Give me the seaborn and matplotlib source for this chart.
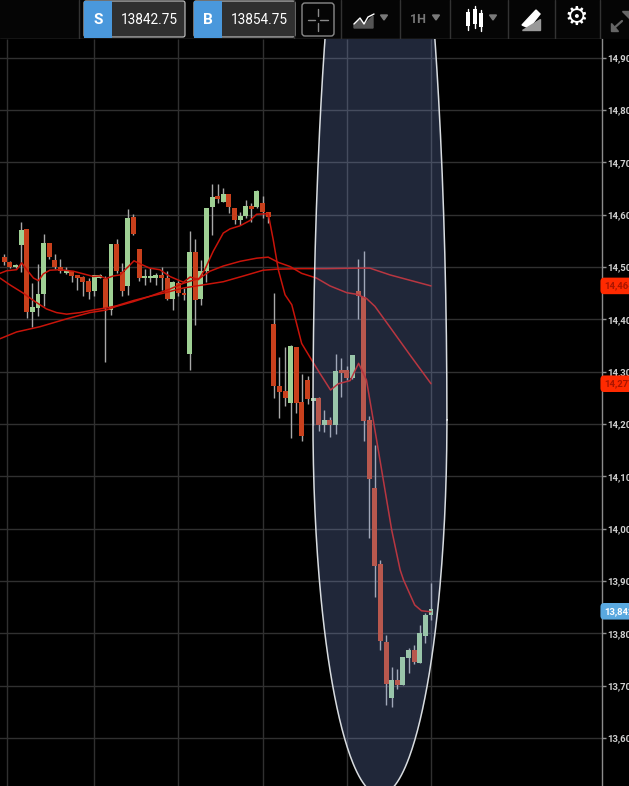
import numpy as np
import matplotlib
matplotlib.use("Agg")
import matplotlib.pyplot as plt
from matplotlib.patches import FancyBboxPatch, Rectangle
import seaborn as sns

# Candle values
opens = [14520, 14509, 14500, 14543, 14573, 14414, 14421, 14449, 14546, 14514, 14501, 14488, 14492, 14484, 14481, 14473,
         14455, 14480, 14478, 14418, 14544, 14490, 14464, 14596, 14534, 14480, 14480, 14480, 14484, 14479, 14439, 14469,
         14451, 14334, 14529, 14439, 14493, 14614, 14636, 14625, 14639, 14613, 14590, 14598, 14617, 14614, 14622, 14605,
         14391, 14273, 14263, 14241, 14348, 14242, 14284, 14244, 14249, 14199, 14208, 14198, 14303, 14303, 14287, 14454,
         14443, 14208, 14078, 13933, 13784, 13676, 13711, 13701, 13753, 13768, 13743, 13795, 13835]
highs = [14525, 14511, 14506, 14586, 14573, 14469, 14506, 14563, 14546, 14525, 14516, 14501, 14492, 14485, 14483, 14479,
         14485, 14487, 14483, 14544, 14553, 14508, 14611, 14601, 14534, 14497, 14498, 14488, 14501, 14493, 14473, 14473,
         14460, 14569, 14553, 14514, 14613, 14658, 14658, 14651, 14639, 14613, 14606, 14629, 14622, 14648, 14636, 14605,
         14451, 14329, 14348, 14351, 14348, 14296, 14292, 14249, 14251, 14227, 14214, 14334, 14326, 14311, 14332, 14516,
         14531, 14215, 14160, 13940, 13797, 13736, 13732, 13755, 13772, 13778, 13816, 13839, 13896]
lows = [14504, 14498, 14498, 14490, 14402, 14385, 14406, 14426, 14515, 14496, 14488, 14487, 14472, 14457, 14444, 14439,
        14445, 14479, 14318, 14409, 14488, 14445, 14447, 14561, 14474, 14465, 14472, 14466, 14457, 14437, 14417, 14444,
        14437, 14304, 14390, 14428, 14472, 14562, 14622, 14624, 14603, 14583, 14581, 14594, 14587, 14613, 14594, 14584,
        14249, 14211, 14235, 14173, 14221, 14168, 14238, 14198, 14187, 14184, 14175, 14180, 14252, 14284, 14286, 14400,
        14168, 13982, 13870, 13768, 13663, 13659, 13694, 13701, 13724, 13741, 13743, 13782, 13826]
closes = [14509, 14500, 14504, 14571, 14414, 14423, 14448, 14546, 14520, 14500, 14492, 14492, 14483, 14480, 14472, 14453,
          14484, 14485, 14422, 14544, 14493, 14455, 14594, 14564, 14480, 14481, 14481, 14484, 14480, 14439, 14471, 14450,
          14447, 14529, 14437, 14493, 14613, 14634, 14631, 14639, 14614, 14590, 14597, 14617, 14611, 14646, 14605, 14595,
          14273, 14262, 14249, 14349, 14241, 14177, 14247, 14249, 14199, 14208, 14198, 14302, 14298, 14287, 14331, 14444,
          14206, 14095, 13929, 13785, 13703, 13711, 13701, 13755, 13768, 13745, 13801, 13835, 13847]

# Moving averages: bar position and price
fast_pos = [-0.77, 0.42, 2.2, 3.1, 4.0, 5.2, 6.1, 6.95, 8.1, 9.9, 12.3, 14.1, 15.85, 17.0, 18.1, 19.4, 20.6, 22.1, 23.1,
            24.2, 25.9, 27.7, 29.5, 31.9, 33.1, 34.6, 35.7, 37.2, 39.0, 40.2, 42.0, 43.75, 44.95, 47.0, 47.9, 48.8, 50.0,
            51.2, 52.96, 54.7, 56.2, 58.1, 59.5, 61.6, 63.1, 64.5, 65.1, 66.3, 67.5, 69.0, 70.5, 71.1, 73.1, 74.3, 76]
fast_val = [14488, 14493, 14495, 14508, 14495, 14479, 14474, 14487, 14494, 14495, 14492, 14487, 14482, 14483, 14478, 14483,
            14485, 14501, 14512, 14506, 14498, 14495, 14482, 14471, 14481, 14476, 14495, 14530, 14565, 14573, 14579, 14589,
            14601, 14602, 14552, 14495, 14447, 14428, 14354, 14323, 14297, 14265, 14277, 14283, 14316, 14284, 14246, 14170,
            14093, 13997, 13921, 13902, 13854, 13843, 13841]
mid_pos = [-0.77, 1.0, 3.4, 5.2, 7.5, 9.3, 11.1, 13.5, 15.85, 18.2, 20.0, 23.0, 25.9, 27.7, 29.5, 31.9, 34.85, 36.6, 39.0,
           42.0, 44.95, 47.0, 48.8, 50.9, 52.96, 55.6, 58.0, 61.0, 62.75, 64.5, 66.0, 68.7, 72.25, 76]
mid_val = [14479, 14466, 14450, 14436, 14420, 14413, 14410, 14413, 14418, 14422, 14426, 14436, 14444, 14451, 14458, 14469,
           14479, 14492, 14502, 14511, 14517, 14519, 14509, 14501, 14488, 14479, 14464, 14451, 14448, 14440, 14425, 14385,
           14332, 14277]
slow_pos = [-0.77, 2.2, 6.35, 11.1, 15.25, 18.2, 20.0, 23.0, 25.9, 28.3, 31.9, 35.45, 39.0, 42.6, 46.1, 48.5, 52.65, 57.4,
            63.3, 65.1, 68.7, 76]
slow_val = [14363, 14376, 14386, 14401, 14413, 14418, 14425, 14434, 14444, 14450, 14460, 14466, 14472, 14483, 14494, 14496,
            14497, 14497, 14498, 14498, 14485, 14464]

price_ticks = [13600, 13700, 13800, 13900, 14000, 14100, 14200, 14300, 14400, 14500, 14600, 14700, 14800, 14900]
time_grid = [0.53, 16, 31, 46, 61, 76]
tags = [(14464, "14,464", "#ff2a00", "#a81500"), (14277, "14,277", "#ff2a00", "#a81500"), (13842, "13,842", "#5aa9e0", "#ffffff")]

sns.set_theme(style="dark", rc={"figure.facecolor": "black", "axes.facecolor": "black", "savefig.facecolor": "black"})
plt.rcParams["font.family"] = ["Roboto", "DejaVu Sans"]

W, H = 629, 786
fig = plt.figure(figsize=(W / 100, H / 100), dpi=100)
ax = fig.add_axes([0, 0, 602 / W, 747 / H])
ax.set_xlim(-0.766, 106.45)
ax.set_ylim(13508, 14936)

# Grid
ax.hlines(price_ticks, -1, 107, color="#303030", lw=1, zorder=1)
ax.vlines(time_grid, 13508, 14936, color="#303030", lw=1, zorder=1)

# Candles
idx = np.arange(len(opens))
o = np.array(opens)
c = np.array(closes)
up = c >= o
colors = np.where(up, "#9fd094", "#c8401c")
ax.vlines(idx, lows, highs, color="#a8a8a8", lw=1, zorder=2)
ax.bar(idx, np.maximum(np.abs(c - o), 3), bottom=np.minimum(o, c), width=0.88, color=colors, linewidth=0, zorder=3)

# Moving averages
for pos, val in [(fast_pos, fast_val), (mid_pos, mid_val), (slow_pos, slow_val)]:
    sns.lineplot(x=pos, y=val, color="#c8140a", lw=1.1, ax=ax, legend=False, errorbar=None, zorder=4)

# Highlight drawn over the sell-off
t = np.linspace(0, 2 * np.pi, 400)
ex = 66.9 + 11.93 * np.cos(t)
ey = 14208 + np.where(np.sin(t) > 0, 1273, 717) * np.sin(t)
ax.fill(ex, ey, facecolor=(0.537, 0.651, 0.945, 0.24), edgecolor="none", zorder=5, clip_on=True)
ax.plot(ex, ey, color="#d8dce0", lw=1.1, zorder=6)

# Price axis
ax.yaxis.tick_right()
ax.set_yticks(price_ticks)
ax.set_yticklabels([f"{p:,}" for p in price_ticks], fontsize=6.8, fontweight="bold", color="#d0d0d0")
ax.set_xticks([])
ax.tick_params(axis="y", length=3, width=1, color="#909090", pad=0.5, right=True)
for name, spine in ax.spines.items():
    spine.set_visible(name == "right")
ax.spines["right"].set_color("#8c8c8c")
ax.spines["right"].set_linewidth(1)
ax.grid(False)
ax.set_xlabel("")
ax.set_ylabel("")

for price, label, bg, fg in tags:
    ax.annotate(label, xy=(1, price), xycoords=("axes fraction", "data"), xytext=(1.6, 0), textcoords="offset points",
                ha="left", va="center", fontsize=6.8, fontweight="bold", color=fg, zorder=10, annotation_clip=False,
                bbox=dict(boxstyle="round,pad=0.4", fc=bg, ec="none"))

# Toolbar strip
bar = fig.add_axes([0, 747 / H, 1, 39 / H], facecolor="#050505")
bar.set_xlim(0, W)
bar.set_ylim(39, 0)
bar.axis("off")
bar.add_patch(Rectangle((0, 0), W, 39, fc="#050505", ec="none"))
bar.plot([0, 602], [38.5, 38.5], color="#555555", lw=1)
for sx in [79, 294, 341, 400, 450, 508, 555, 600]:
    bar.plot([sx, sx], [0, 39], color="#333333", lw=1)

for x0, letter, price in [(84, "S", "13842.75"), (194, "B", "13854.75")]:
    bar.add_patch(FancyBboxPatch((x0, 1), 101, 36, boxstyle="round,pad=0,rounding_size=2", fc="#303030", ec="#c8c8c8", lw=0.8))
    bar.add_patch(Rectangle((x0, 1), 28, 37, fc="#4a98dc", ec="none"))
    bar.text(x0 + 14, 20, letter, color="white", fontsize=11, fontweight="bold", ha="center", va="center")
    bar.text(x0 + 65, 19.5, price, color="white", fontsize=9.8, ha="center", va="center")

# Crosshair button
bar.add_patch(FancyBboxPatch((302, 3), 32, 33, boxstyle="round,pad=0,rounding_size=3", fc="#050505", ec="#8a8a8a", lw=1))
for seg in [([308, 315], [19.5, 19.5]), ([320, 328], [19.5, 19.5]), ([317.5, 317.5], [9, 16]), ([317.5, 317.5], [23, 31])]:
    bar.plot(seg[0], seg[1], color="#8a8a8a", lw=1)

# Small icons
bar.fill([354, 354, 360, 365, 373, 373], [28, 24, 20, 24, 16, 28], color="#555555")
bar.plot([354, 360, 364, 368, 374], [24, 18, 24, 17, 14], color="white", lw=1)
for cx in [384, 436, 493]:
    bar.fill([cx - 3.5, cx + 3.5, cx], [15, 15, 20], color="#7a7a7a")
bar.text(418, 19.5, "1H", color="#777777", fontsize=9, fontweight="bold", ha="center", va="center")
for cx, top, bot in [(468, 12, 26), (474.5, 9, 24), (481, 13, 27)]:
    bar.plot([cx, cx], [top - 3, bot + 4], color="white", lw=1)
    bar.add_patch(Rectangle((cx - 2, top), 4, bot - top, fc="white", ec="none"))
bar.fill([522, 536, 540, 529], [25, 10, 14, 28], color="white")
bar.fill([522, 540, 540], [30, 30, 19], color="#999999")
bar.text(576, 17.5, "\u2699", color="white", fontsize=19, family="DejaVu Sans", fontweight="bold", ha="center", va="center")
bar.plot([613, 622], [29, 21], color="#666666", lw=1.6)
bar.fill([611, 611, 618], [23, 31, 31], color="#666666")
bar.fill([622, 629, 629], [11, 11, 18], color="#666666")

fig.savefig("out.png", dpi=100)
